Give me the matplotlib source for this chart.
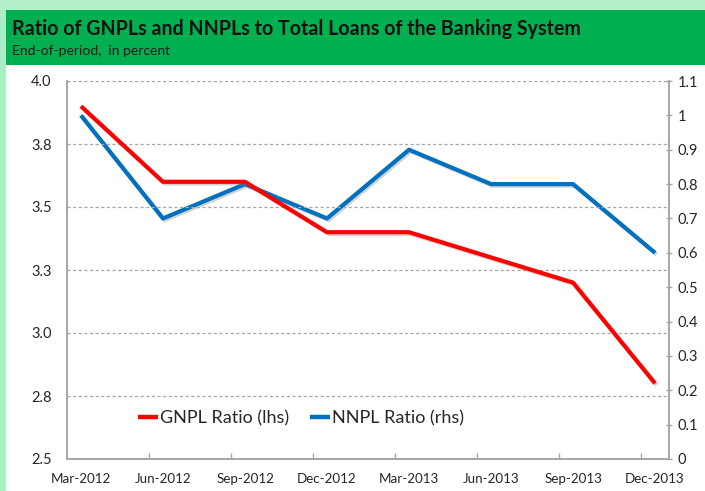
import matplotlib
matplotlib.use("Agg")
import matplotlib.pyplot as plt
import matplotlib.patheffects as pe
from matplotlib.patches import Rectangle

plt.rcParams['font.family'] = ['Lato', 'DejaVu Sans']

periods = ["Mar-2012", "Jun-2012", "Sep-2012", "Dec-2012",
           "Mar-2013", "Jun-2013", "Sep-2013", "Dec-2013"]
gnpl_ratio = [3.9, 3.6, 3.6, 3.4, 3.4, 3.3, 3.2, 2.8]
nnpl_ratio = [1.0, 0.7, 0.8, 0.7, 0.9, 0.8, 0.8, 0.6]

left_ticks = [2.5, 2.75, 3.0, 3.25, 3.5, 3.75, 4.0]
left_labels = ["2.5", "2.8", "3.0", "3.3", "3.5", "3.8", "4.0"]
right_ticks = [0, 0.1, 0.2, 0.3, 0.4, 0.5, 0.6, 0.7, 0.8, 0.9, 1.0, 1.1]
right_labels = ["0", "0.1", "0.2", "0.3", "0.4", "0.5", "0.6", "0.7",
                "0.8", "0.9", "1", "1.1"]

title = "Ratio of GNPLs and NNPLs to Total Loans of the Banking System"
subtitle = "End-of-period,  in percent"

W, H = 705, 491
fig = plt.figure(figsize=(W / 100, H / 100), dpi=100)
fig.patch.set_facecolor("white")

# frame: pale green margins, green header band
fig.patches.append(Rectangle((0, 0), 6 / W, 1, transform=fig.transFigure,
                             facecolor="#a9eec4", edgecolor="none", zorder=0))
fig.patches.append(Rectangle((0, 1 - 10 / H), 1, 10 / H, transform=fig.transFigure,
                             facecolor="#b4f0cc", edgecolor="none", zorder=0))
fig.patches.append(Rectangle((6 / W, 1 - 65 / H), 1 - 6 / W, 55 / H,
                             transform=fig.transFigure,
                             facecolor="#00b050", edgecolor="none", zorder=1))

fig.text(12 / W, 1 - 29 / H, title, fontsize=14.1, fontweight="bold",
         color="#111111", va="center", ha="left")
fig.text(12 / W, 1 - 51 / H, subtitle, fontsize=10, color="#1a1a1a",
         va="center", ha="left")

ax = fig.add_axes([67 / W, 32 / H, 602 / W, 378 / H])
ax.set_facecolor("none")
x = list(range(len(periods)))

shadow = [pe.SimpleLineShadow(offset=(1.2, -1.2), shadow_color="gray", alpha=0.35),
          pe.Normal()]

line_g, = ax.plot(x, gnpl_ratio, color="#ff0000", lw=3.0, solid_capstyle="butt",
                  solid_joinstyle="round", path_effects=shadow, zorder=4,
                  label="GNPL Ratio (lhs)")
ax.set_ylim(2.5, 4.0)
ax.set_xlim(-0.17, 7.17)
ax.set_yticks(left_ticks)
ax.set_yticklabels(left_labels)
for yv in left_ticks[1:]:
    ax.axhline(yv, color="#a6a6a6", lw=0.9, ls=(0, (2.5, 2.0)), zorder=1)

ax2 = ax.twinx()
line_n, = ax2.plot(x, nnpl_ratio, color="#0070c0", lw=3.0, solid_capstyle="butt",
                   solid_joinstyle="round", path_effects=shadow, zorder=3,
                   label="NNPL Ratio (rhs)")
ax2.set_ylim(0, 1.1)
ax2.set_yticks(right_ticks)
ax2.set_yticklabels(right_labels)

ax.set_xticks(x)
ax.set_xticklabels(periods)
ax.set_xticks([i - 0.17 for i in range(1, 8)], minor=True)

spine_c = "#a6a6a6"
for a in (ax, ax2):
    a.spines["top"].set_visible(False)
    for s in ("left", "right", "bottom"):
        a.spines[s].set_color(spine_c)
        a.spines[s].set_linewidth(1.2)

ax.tick_params(axis="x", which="major", length=0, pad=10, labelsize=9.6,
               labelcolor="#262626")
ax.tick_params(axis="x", which="minor", direction="in", length=4,
               color=spine_c, width=1)
ax.tick_params(axis="y", length=0, pad=11, labelsize=10.5, labelcolor="#262626")
ax2.tick_params(axis="y", direction="inout", length=4, width=1, color=spine_c,
                pad=4, labelsize=10.5, labelcolor="#262626")

leg = ax.legend(handles=[line_g, line_n], loc="center left",
                bbox_to_anchor=(0.118, 0.108), ncol=2, frameon=False,
                borderaxespad=0, borderpad=0,
                fontsize=13, handlelength=1.1, handletextpad=0.1,
                columnspacing=1.2, labelcolor="#262626")
for h in leg.get_lines():
    h.set_path_effects([])
    h.set_linewidth(3.2)
ax2.set_zorder(ax.get_zorder() - 1)
ax.patch.set_visible(False)

fig.savefig("out.png", dpi=100, facecolor=fig.get_facecolor())
